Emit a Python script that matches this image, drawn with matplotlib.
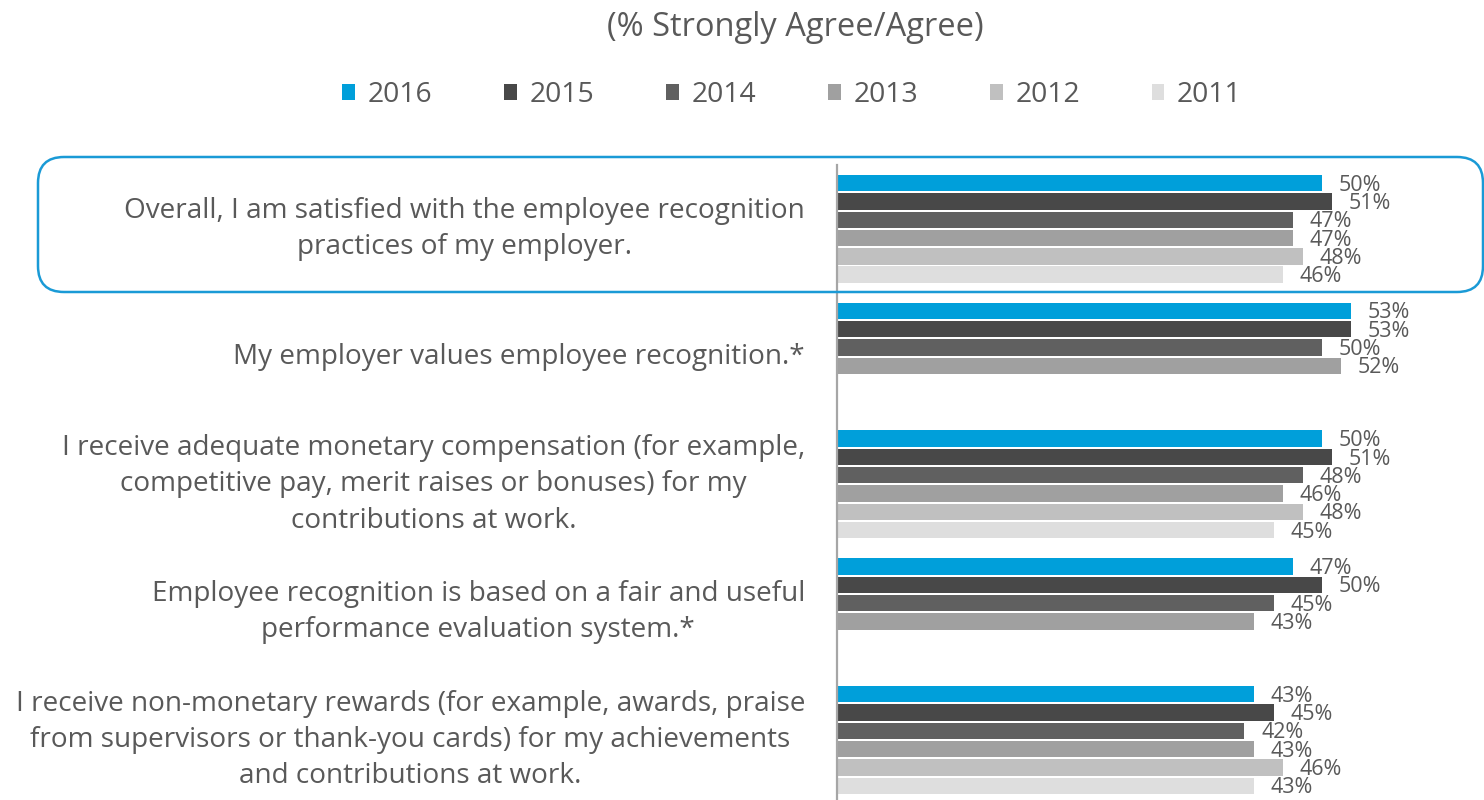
"""Employee recognition survey, % strongly agree/agree by year."""
import matplotlib.pyplot as plt
import numpy as np
from matplotlib.patches import FancyBboxPatch
from matplotlib.transforms import IdentityTransform

plt.rcParams['font.family'] = ['Open Sans', 'DejaVu Sans']

statements = [
    "Overall, I am satisfied with the employee recognition\npractices of my employer.",
    "My employer values employee recognition.*",
    "I receive adequate monetary compensation (for example,\ncompetitive pay, merit raises or bonuses) for my\ncontributions at work.",
    "Employee recognition is based on a fair and useful\nperformance evaluation system.*",
    "I receive non-monetary rewards (for example, awards, praise\nfrom supervisors or thank-you cards) for my achievements\nand contributions at work.",
]
years = ['2016', '2015', '2014', '2013', '2012', '2011']

# % strongly agree / agree, None = not asked that year
v2016 = [50, 53, 50, 47, 43]
v2015 = [51, 53, 51, 50, 45]
v2014 = [47, 50, 48, 45, 42]
v2013 = [47, 52, 46, 43, 43]
v2012 = [48, None, 48, None, 46]
v2011 = [46, None, 45, None, 43]
series = [v2016, v2015, v2014, v2013, v2012, v2011]

colors = ['#009fda', '#484848', '#606060', '#a0a0a0', '#c0c0c0', '#dedede']
text_col = '#595959'

fig = plt.figure(figsize=(14.84, 8), dpi=100)
ax = fig.add_axes([837 / 1484, 0, 647 / 1484, 635 / 800])

slot = 0.1432
centers = np.arange(len(statements))
for k, (vals, col, yr) in enumerate(zip(series, colors, years)):
    idx = [i for i, v in enumerate(vals) if v is not None]
    w = [vals[i] for i in idx]
    y = centers[idx] + (k - 2.5) * slot
    ax.barh(y, w, height=0.128, color=col, label=yr)
    for yy, ww in zip(y, w):
        ax.annotate(f'{ww}%', (ww, yy), xytext=(12, -1.5), textcoords='offset points',
                    ha='left', va='center', fontsize=15.5, color=text_col)

ax.set_xlim(0, 647 / 9.7)
ax.set_ylim(4.47, -0.5)
ax.set_xticks([])
ax.set_yticks(centers)
ax.set_yticklabels(statements, fontsize=20.1, color=text_col, multialignment='center',
                   linespacing=1.4, va='center')
ax.tick_params(axis='y', length=0, pad=23)
for s in ['top', 'right', 'bottom']:
    ax.spines[s].set_visible(False)
ax.spines['left'].set_color('#a6a6a6')
ax.spines['left'].set_linewidth(1.6)

fig.text(795 / 1484, 1 - 27 / 800, '(% Strongly Agree/Agree)', ha='center', va='center',
         fontsize=23.5, color=text_col)

fig.legend(loc='center', bbox_to_anchor=(792 / 1484, 1 - 95 / 800), ncol=6, frameon=False,
           fontsize=20.3, labelcolor=text_col, handlelength=0.45, handleheight=0.45,
           handletextpad=0.45, columnspacing=2.55)

# highlight box round the first statement
box = FancyBboxPatch((38, 800 - 292), 1445, 135, boxstyle='round,pad=0,rounding_size=26',
                     transform=IdentityTransform(), facecolor='none', edgecolor='#1a9ad6',
                     linewidth=1.8, zorder=5)
fig.patches.append(box)

fig.savefig('out.png', dpi=100)
